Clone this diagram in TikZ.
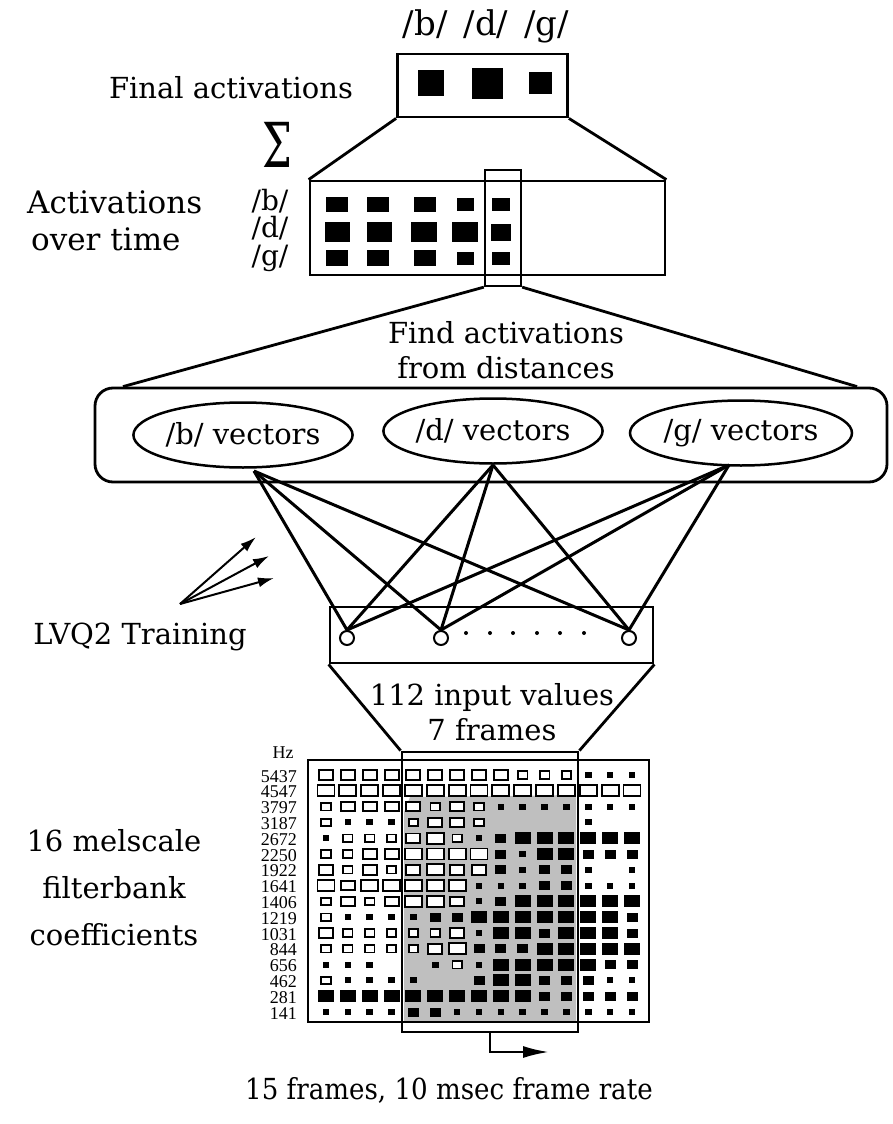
\documentclass[tikz,border=0pt]{standalone}
\usepackage{fontspec}
\setmainfont{DejaVu Serif}
\newfontfamily\hzfont{Liberation Serif}
\usetikzlibrary{arrows.meta,shapes.geometric}
\newcommand\bigtxt{\fontsize{29}{35}\selectfont}
\begin{document}
\begin{tikzpicture}[x=1pt,y=-1pt,
  thick line/.style={line width=2.8pt},
  box/.style={draw,thick line,inner sep=0pt,fill=none},
  txt/.style={font=\bigtxt,inner sep=0pt},
  hzlab/.style={font=\hzfont\fontsize{18}{15.8}\selectfont,inner sep=0pt},
  blk/.style={fill=black,inner sep=0pt,draw=none},
  vec/.style={draw,ellipse,line width=2.5pt,inner sep=0pt,minimum width=217pt,minimum height=65pt,font=\bigtxt},
  unit/.style={draw,circle,line width=2pt,fill=white,inner sep=0pt,minimum size=14pt},
  link/.style={line width=3pt},
  lvq/.style={line width=2pt,-{Latex[length=16pt,width=10pt]}},
  cellH/.style={draw,fill=white,line width=1.9pt,inner sep=0pt,minimum width=17pt,minimum height=11pt},
  cellM/.style={draw,fill=white,line width=1.9pt,inner sep=0pt,minimum width=14pt,minimum height=9.5pt},
  cellh/.style={draw,fill=white,line width=1.7pt,inner sep=0pt,minimum width=9.5pt,minimum height=7.5pt},
  cellF/.style={fill=black,inner sep=0pt,minimum width=16pt,minimum height=12pt},
  cellf/.style={fill=black,inner sep=0pt,minimum width=11pt,minimum height=9pt},
  celld/.style={fill=black,inner sep=0pt,minimum width=6.5pt,minimum height=6pt},
  cellN/.style={inner sep=0pt,minimum size=0pt}
]
\useasboundingbox (0,0) rectangle (893,1124);

% ---------- top: final activations ----------
\node[inner sep=0pt,font=\fontsize{34}{34}\selectfont] (hdr) at (486,26) {/b/\hspace{16pt}/d/\hspace{16pt}/g/};
\node[box,minimum width=170pt,minimum height=63pt] (finalbox) at (482.5,85.5) {};
\node[blk,minimum width=26pt,minimum height=26pt] (fb) at (431,83) {};
\node[blk,minimum width=31pt,minimum height=31pt] (fd) at (487.5,83.5) {};
\node[blk,minimum width=23pt,minimum height=22pt] (fg) at (540.5,83) {};
\node[txt] (finaltxt) at (231,88) {Final activations};
\node[inner sep=0pt,font=\fontsize{62}{62}\selectfont] (sigma) at (277,145) {\scalebox{0.68}[1]{Σ}};

% ---------- activations over time ----------
\node[box,minimum width=355pt,minimum height=94pt] (actbox) at (487.5,228) {};
\draw[thick line] (finalbox.south west) -- (actbox.north west);
\draw[thick line] (finalbox.south east) -- (actbox.north east);
\node[inner sep=0pt,align=left,font=\fontsize{31}{37}\selectfont,anchor=west] (acttxt) at (27,221) {Activations\\\hspace{4pt}over time};
\node[inner sep=0pt,align=left,font=\fontsize{28}{27.5}\selectfont] (lbdg) at (270,230) {/b/\\/d/\\/g/};
% squares: row b
\node[blk,minimum width=22pt,minimum height=15pt] (b1) at (337,204) {};
\node[blk,minimum width=22pt,minimum height=15pt] (b2) at (378,204) {};
\node[blk,minimum width=22pt,minimum height=15pt] (b3) at (425,204) {};
\node[blk,minimum width=17pt,minimum height=13pt] (b4) at (465,204) {};
\node[blk,minimum width=18pt,minimum height=13pt] (b5) at (501,204) {};
% row d
\node[blk,minimum width=25pt,minimum height=20pt] (d1) at (337,232) {};
\node[blk,minimum width=25pt,minimum height=20pt] (d2) at (379,232) {};
\node[blk,minimum width=26pt,minimum height=20pt] (d3) at (424,232) {};
\node[blk,minimum width=26pt,minimum height=20pt] (d4) at (465,232) {};
\node[blk,minimum width=20pt,minimum height=17pt] (d5) at (501,232) {};
% row g
\node[blk,minimum width=22pt,minimum height=16pt] (g1) at (337,258) {};
\node[blk,minimum width=22pt,minimum height=16pt] (g2) at (378,258) {};
\node[blk,minimum width=22pt,minimum height=16pt] (g3) at (425,258) {};
\node[blk,minimum width=17pt,minimum height=13pt] (g4) at (465,258) {};
\node[blk,minimum width=18pt,minimum height=13pt] (g5) at (501,258) {};
\node[box,line width=2.3pt,minimum width=36pt,minimum height=116pt] (win) at (503,228) {};

% ---------- distances ----------
\node[box,rounded corners=18pt,minimum width=792pt,minimum height=94pt] (vecbox) at (491,435) {};
\draw[thick line] (win.south west) -- (vecbox.north west -| 123,0);
\draw[thick line] (win.south east) -- (vecbox.north east -| 857,0);
\node[inner sep=0pt,align=center,font=\bigtxt] (find) at (506,350) {Find activations\\from distances};
\node[vec] (bv) at (243,435) {/b/ vectors};
\node[vec] (dv) at (493,431) {/d/ vectors};
\node[vec,minimum width=222pt] (gv) at (741,433) {/g/ vectors};
\coordinate (bp) at (254,471);
\coordinate (dp) at (493,465);
\coordinate (gp) at (729,465);

% ---------- input layer ----------
\node[box,minimum width=323pt,minimum height=56pt] (inbox) at (491.5,635) {};
\node[unit] (u1) at (347,638) {};
\node[unit] (u2) at (441,638) {};
\node[unit] (u3) at (629,638) {};
\foreach \p in {bp,dp,gp}{
  \foreach \u in {u1,u2,u3}{
    \draw[link] (\p) -- (\u.north);
  }
}
\foreach \xx [count=\k] in {466,490,513,537,560,584}{
  \fill (\xx,633) circle (2pt) coordinate (dot\k);
}
\coordinate (lvqo) at (180,604);
\coordinate (a1) at (256,537);
\coordinate (a2) at (269,556);
\coordinate (a3) at (274,578);
\draw[lvq] (lvqo) -- (a1);
\draw[lvq] (lvqo) -- (a2);
\draw[lvq] (lvqo) -- (a3);
\node[txt] (lvqtxt) at (140,637) {LVQ2 Training};

% ---------- filterbank matrix ----------
\fill[gray!50] (410,797) -- (576,795) -- (576,1021) -- (404,1021) -- (404,812) -- cycle;
\node[inner sep=0pt,align=center,font=\bigtxt,text depth=0pt] (inval) at (492,712) {112 input values\\7 frames};
\node[hzlab] (hz) at (283,753) {Hz};
\node[hzlab,align=right,anchor=north east] (hzcol) at (297,770) {5437\\4547\\3797\\3187\\2672\\2250\\1922\\1641\\1406\\1219\\1031\\844\\656\\462\\281\\141};
\foreach \r [count=\j] in {
 {M,M,M,M,M,M,M,M,M,h,h,h,d,d,d},
 {H,H,H,H,H,H,H,H,H,H,H,H,H,H,H},
 {h,M,M,M,M,h,M,h,d,d,d,d,d,d,d},
 {h,d,d,d,h,M,M,h,N,N,N,N,d,N,N},
 {d,h,h,h,M,H,h,d,f,F,F,F,F,F,F},
 {h,h,M,M,H,H,H,H,f,d,F,F,f,f,f},
 {M,h,M,h,M,H,M,M,f,d,f,f,d,N,d},
 {H,M,H,H,H,H,H,d,d,d,f,f,d,d,d},
 {h,M,h,M,H,H,M,d,f,F,F,F,F,F,F},
 {h,d,d,d,d,f,f,F,F,F,F,F,F,F,f},
 {M,h,h,h,h,h,M,d,F,F,f,F,F,F,f},
 {h,h,h,h,h,M,H,f,f,f,F,F,F,F,F},
 {d,d,d,N,N,d,h,d,F,F,F,F,F,f,f},
 {h,d,d,d,d,N,N,f,F,F,f,f,f,d,d},
 {F,F,F,F,F,F,F,F,F,F,f,f,f,f,f},
 {d,d,d,d,f,f,d,d,d,d,d,d,d,d,d}}{
  \foreach \c [count=\i] in \r {
    \node[cell\c] (c\j-\i) at ({326+21.86*(\i-1)},{775+15.8*(\j-1)}) {};
  }
}
\node[box,minimum width=341pt,minimum height=262pt] (mat) at (478.5,891) {};
\node[box,minimum width=176pt,minimum height=280pt] (win2) at (490,892) {};
\draw[thick line] (inbox.south west) -- (win2.north west);
\draw[thick line] (inbox.south east) -- (win2.north east);
\coordinate (arrs) at (490,1032);
\coordinate (arrc) at (490,1052);
\coordinate (arre) at (549,1052);
\draw[line width=2.4pt,-{Latex[length=26pt,width=12pt]}] (arrs) -- (arrc) -- (arre);

% ---------- side and bottom labels ----------
\node[inner sep=0pt,align=center,font=\fontsize{29}{47}\selectfont] (mel) at (114,888) {16 melscale\\filterbank\\coefficients};
\node[txt] (bottom) at (449,1090) {\scalebox{0.9}[1]{15 frames, 10 msec frame rate}};
\end{tikzpicture}
\end{document}
